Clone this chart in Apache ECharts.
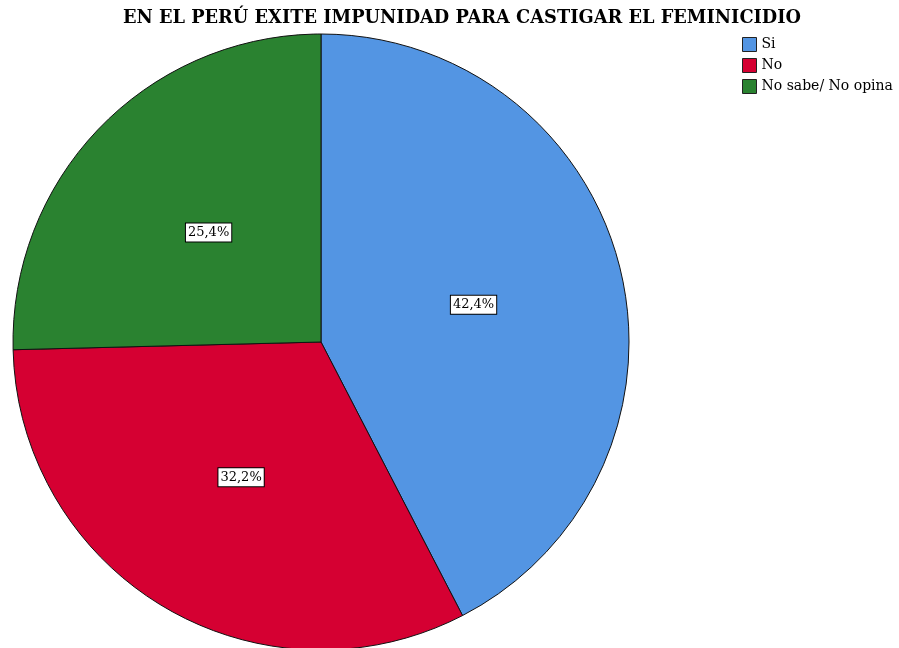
<!DOCTYPE html>
<html>
<head>
<meta charset="utf-8">
<script src="https://cdn.jsdelivr.net/npm/echarts@6/dist/echarts.min.js"></script>
<style>
  html, body { margin: 0; padding: 0; background: #fff; }
  #chart { width: 899px; height: 648px; }
</style>
</head>
<body>
<div id="chart"></div>
<script>
    const titleText = 'EN EL PERÚ EXITE IMPUNIDAD PARA CASTIGAR EL FEMINICIDIO';
    const categories = ['Si', 'No', 'No sabe/ No opina'];
    const percents = [42.4, 32.2, 25.4];
    const colors = ['#5395e3', '#d50032', '#2a8230'];

    let chartDom = document.getElementById('chart');
    let myChart = echarts.init(chartDom);

    let pieData = [];
    for (let index = 0; index < categories.length; index++) {
        pieData.push({ name: categories[index], value: percents[index] });
    }

    myChart.setOption({
        animation: false,
        color: colors,
        title: {
            text: titleText,
            left: 457,
            textAlign: 'center',
            top: 4,
            textStyle: {
                fontFamily: 'DejaVu Serif',
                fontWeight: 'bold',
                fontSize: 17.8,
                color: '#000'
            }
        },
        legend: {
            orient: 'vertical',
            left: 742,
            top: 37,
            padding: 0,
            itemWidth: 14,
            itemHeight: 14,
            itemGap: 6,
            icon: 'rect',
            itemStyle: { borderColor: '#222', borderWidth: 1 },
            textStyle: {
                fontFamily: 'DejaVu Serif',
                fontSize: 14,
                lineHeight: 14,
                color: '#000'
            },
            data: categories
        },
        series: [
            {
                type: 'pie',
                center: [321, 342],
                radius: [0, 308],
                startAngle: 90,
                clockwise: true,
                silent: true,
                itemStyle: { borderColor: '#111', borderWidth: 1 },
                label: {
                    show: true,
                    position: 'inside',
                    formatter: function (params) {
                        return params.value.toFixed(1).replace('.', ',') + '%';
                    },
                    fontFamily: 'DejaVu Serif',
                    fontSize: 13,
                    color: '#000',
                    backgroundColor: '#fff',
                    borderColor: '#000',
                    borderWidth: 1,
                    padding: [3, 2, 2, 2]
                },
                labelLine: { show: false },
                data: pieData
            }
        ]
    });
</script>
</body>
</html>
